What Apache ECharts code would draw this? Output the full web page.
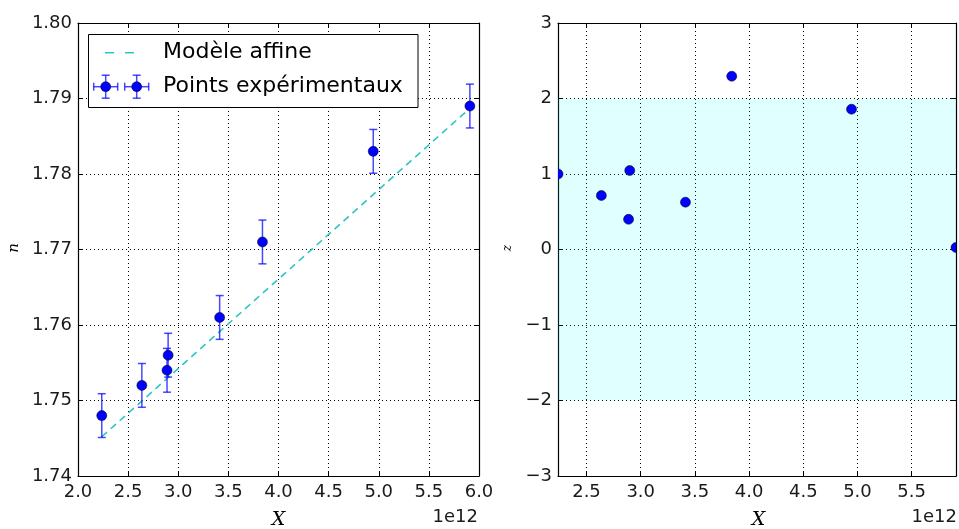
<!DOCTYPE html>
<html><head><meta charset="utf-8">
<script src="https://cdn.jsdelivr.net/npm/echarts@6/dist/echarts.min.js"></script>
<style>html,body{margin:0;padding:0;background:#fff}#c{width:959px;height:529px}</style>
</head><body><div id="c"></div>
<script>
// X values in units of 1e12
const xValues = [2.237, 2.637, 2.888, 2.899, 3.413, 3.840, 4.945, 5.909];
const nValues = [1.748, 1.752, 1.754, 1.756, 1.761, 1.771, 1.783, 1.789];
const nErrors = [0.0029, 0.0029, 0.0029, 0.0029, 0.0029, 0.0029, 0.0029, 0.0029];
const modelX = [2.237, 5.909];
const modelN = [1.7452, 1.7887];
const zValues = [1.0, 0.715, 0.40, 1.046, 0.627, 2.295, 1.858, 0.026];
const leftXTicks = [2.0, 2.5, 3.0, 3.5, 4.0, 4.5, 5.0, 5.5, 6.0];
const rightXTicks = [2.5, 3.0, 3.5, 4.0, 4.5, 5.0, 5.5];
const leftYTicks = [1.74, 1.75, 1.76, 1.77, 1.78, 1.79, 1.80];
const rightYTicks = [-3, -2, -1, 0, 1, 2, 3];
const bandRange = [-2, 2];

const chart = echarts.init(document.getElementById('c'), null, {renderer: 'canvas'});
const textColor = '#1a1a1a';
const font = 'DejaVu Sans';
const gridLine = {show: true, lineStyle: {color: '#000', width: 1, type: [1, 3]}};
const axLine = {show: true, onZero: false, lineStyle: {color: '#000', width: 1.2}};
const tickIn = {show: true, inside: true, length: 5, lineStyle: {color: '#000', width: 1}};
const lbl = (fmt) => ({show: true, color: textColor, fontFamily: font, fontSize: 18, margin: 7, formatter: fmt});
const minus = v => String(v).replace('-', '\u2212');
const rightXFmt = v => {
  const hit = rightXTicks.find(t => Math.abs(t - v) < 1e-6);
  return hit === undefined ? '' : hit.toFixed(1);
};

const grids = [
  {left: 78, top: 23, width: 401, height: 453},
  {left: 558, top: 23, width: 401, height: 453}
];

const xAxes = [
  {gridIndex: 0, type: 'value', position: 'bottom', min: leftXTicks[0], max: leftXTicks[leftXTicks.length-1], interval: 0.5,
   axisLine: axLine, axisTick: tickIn, splitLine: gridLine, axisLabel: lbl(v => v.toFixed(1))},
  {gridIndex: 1, type: 'value', position: 'bottom', min: xValues[0], max: xValues[xValues.length-1], splitNumber: 7,
   axisLine: axLine, axisTick: tickIn, splitLine: gridLine, axisLabel: lbl(rightXFmt)},
  {gridIndex: 0, type: 'value', position: 'top', min: leftXTicks[0], max: leftXTicks[leftXTicks.length-1], interval: 0.5,
   axisLine: axLine, axisTick: tickIn, splitLine: {show: false}, axisLabel: {show: false}},
  {gridIndex: 1, type: 'value', position: 'top', min: xValues[0], max: xValues[xValues.length-1], splitNumber: 7,
   axisLine: axLine, axisTick: tickIn, splitLine: {show: false}, axisLabel: {show: false}}
];
const yAxes = [
  {gridIndex: 0, type: 'value', position: 'left', min: leftYTicks[0], max: leftYTicks[leftYTicks.length-1], interval: 0.01,
   axisLine: axLine, axisTick: tickIn, splitLine: gridLine, axisLabel: Object.assign(lbl(v => v.toFixed(2)), {margin: 6})},
  {gridIndex: 1, type: 'value', position: 'left', min: rightYTicks[0], max: rightYTicks[rightYTicks.length-1], interval: 1,
   axisLine: axLine, axisTick: tickIn, splitLine: gridLine, axisLabel: Object.assign(lbl(v => minus(v)), {margin: 6})},
  {gridIndex: 0, type: 'value', position: 'right', min: leftYTicks[0], max: leftYTicks[leftYTicks.length-1], interval: 0.01,
   axisLine: axLine, axisTick: tickIn, splitLine: {show: false}, axisLabel: {show: false}},
  {gridIndex: 1, type: 'value', position: 'right', min: rightYTicks[0], max: rightYTicks[rightYTicks.length-1], interval: 1,
   axisLine: axLine, axisTick: tickIn, splitLine: {show: false}, axisLabel: {show: false}}
];

const errColor = 'rgba(0,0,255,0.72)';
const markerColor = '#0000ff';

const series = [
  {name: 'Modèle affine', type: 'line', xAxisIndex: 0, yAxisIndex: 0, symbol: 'none', silent: true,
   data: modelX.map((x, i) => [x, modelN[i]]),
   lineStyle: {color: '#2cc5c5', width: 1.6, type: [7, 5]}, z: 3},
  {name: 'errbars', type: 'custom', xAxisIndex: 0, yAxisIndex: 0, z: 4,
   data: xValues.map((x, i) => [x, nValues[i], nErrors[i]]),
   encode: {x: 0, y: 1},
   renderItem: function (params, api) {
     const x = api.value(0), y = api.value(1), e = api.value(2);
     const t = api.coord([x, y + e]), b = api.coord([x, y - e]);
     const cw = 4;
     const st = {stroke: errColor, lineWidth: 1.5};
     return {type: 'group', children: [
       {type: 'line', shape: {x1: t[0], y1: t[1], x2: b[0], y2: b[1]}, style: st},
       {type: 'line', shape: {x1: t[0] - cw, y1: t[1], x2: t[0] + cw, y2: t[1]}, style: st},
       {type: 'line', shape: {x1: b[0] - cw, y1: b[1], x2: b[0] + cw, y2: b[1]}, style: st}
     ]};
   }},
  {name: 'Points expérimentaux', type: 'scatter', xAxisIndex: 0, yAxisIndex: 0, z: 5,
   data: xValues.map((x, i) => [x, nValues[i]]), symbolSize: 10,
   itemStyle: {color: markerColor, borderColor: '#000', borderWidth: 0.5, opacity: 1}},
  {name: 'z', type: 'custom', xAxisIndex: 1, yAxisIndex: 1, z: 5, clip: true,
   data: xValues.map((x, i) => [x, zValues[i]]),
   encode: {x: 0, y: 1},
   renderItem: function (params, api) {
     const p = api.coord([api.value(0), api.value(1)]);
     return {type: 'circle', shape: {cx: p[0], cy: p[1], r: 5},
       style: {fill: markerColor, stroke: '#000', lineWidth: 0.5}};
   },
   markArea: {silent: true, itemStyle: {color: 'rgba(0,255,255,0.12)'},
     data: [[{yAxis: bandRange[0]}, {yAxis: bandRange[1]}]]}}
];

function ebIcon(cx, cy) {
  const st = {stroke: errColor, lineWidth: 1.5};
  return [
    {type: 'line', z: 102, shape: {x1: cx - 12, y1: cy, x2: cx + 12, y2: cy}, style: st},
    {type: 'line', z: 102, shape: {x1: cx - 12, y1: cy - 4, x2: cx - 12, y2: cy + 4}, style: st},
    {type: 'line', z: 102, shape: {x1: cx + 12, y1: cy - 4, x2: cx + 12, y2: cy + 4}, style: st},
    {type: 'line', z: 102, shape: {x1: cx, y1: cy - 11.5, x2: cx, y2: cy + 11.5}, style: st},
    {type: 'line', z: 102, shape: {x1: cx - 4, y1: cy - 11.5, x2: cx + 4, y2: cy - 11.5}, style: st},
    {type: 'line', z: 102, shape: {x1: cx - 4, y1: cy + 11.5, x2: cx + 4, y2: cy + 11.5}, style: st},
    {type: 'circle', z: 103, shape: {cx: cx, cy: cy, r: 5}, style: {fill: markerColor, stroke: '#000', lineWidth: 0.5}}
  ];
}

const graphic = [
  {type: 'rect', z: 100, shape: {x: 88.5, y: 34.5, width: 329.5, height: 73},
   style: {fill: '#fff', stroke: '#000', lineWidth: 1}},
  {type: 'line', z: 101, shape: {x1: 105, y1: 52.7, x2: 134, y2: 52.7},
   style: {stroke: '#2cc5c5', lineWidth: 1.6, lineDash: [9, 11]}}
].concat(ebIcon(105.7, 86.7), ebIcon(136.7, 86.7), [
  {type: 'text', z: 101, x: 163, y: 52.7, style: {text: 'Modèle affine', fill: '#000', font: '22px "DejaVu Sans"', verticalAlign: 'middle'}},
  {type: 'text', z: 101, x: 163, y: 86.7, style: {text: 'Points expérimentaux', fill: '#000', font: '22px "DejaVu Sans"', verticalAlign: 'middle'}},
  {type: 'text', x: 14, y: 248, rotation: Math.PI / 2, style: {text: 'n', fill: '#000', font: 'italic 15px "DejaVu Serif"', align: 'center', verticalAlign: 'middle'}},
  {type: 'text', x: 508, y: 248, rotation: Math.PI / 2, style: {text: 'z', fill: '#000', font: 'italic 12px "DejaVu Serif"', align: 'center', verticalAlign: 'middle'}},
  {type: 'text', x: 278.5, y: 520, style: {text: 'X', fill: '#000', font: 'italic 19px "DejaVu Serif"', align: 'center', verticalAlign: 'middle'}},
  {type: 'text', x: 758.5, y: 520, style: {text: 'X', fill: '#000', font: 'italic 19px "DejaVu Serif"', align: 'center', verticalAlign: 'middle'}},
  {type: 'text', x: 478, y: 517, style: {text: '1e12', fill: textColor, font: '18px "DejaVu Sans"', align: 'right', verticalAlign: 'middle'}},
  {type: 'text', x: 957, y: 517, style: {text: '1e12', fill: textColor, font: '18px "DejaVu Sans"', align: 'right', verticalAlign: 'middle'}}
]);

chart.setOption({
  animation: false,
  backgroundColor: '#fff',
  grid: grids,
  xAxis: xAxes,
  yAxis: yAxes,
  series: series,
  graphic: graphic
});
</script>
</body></html>
